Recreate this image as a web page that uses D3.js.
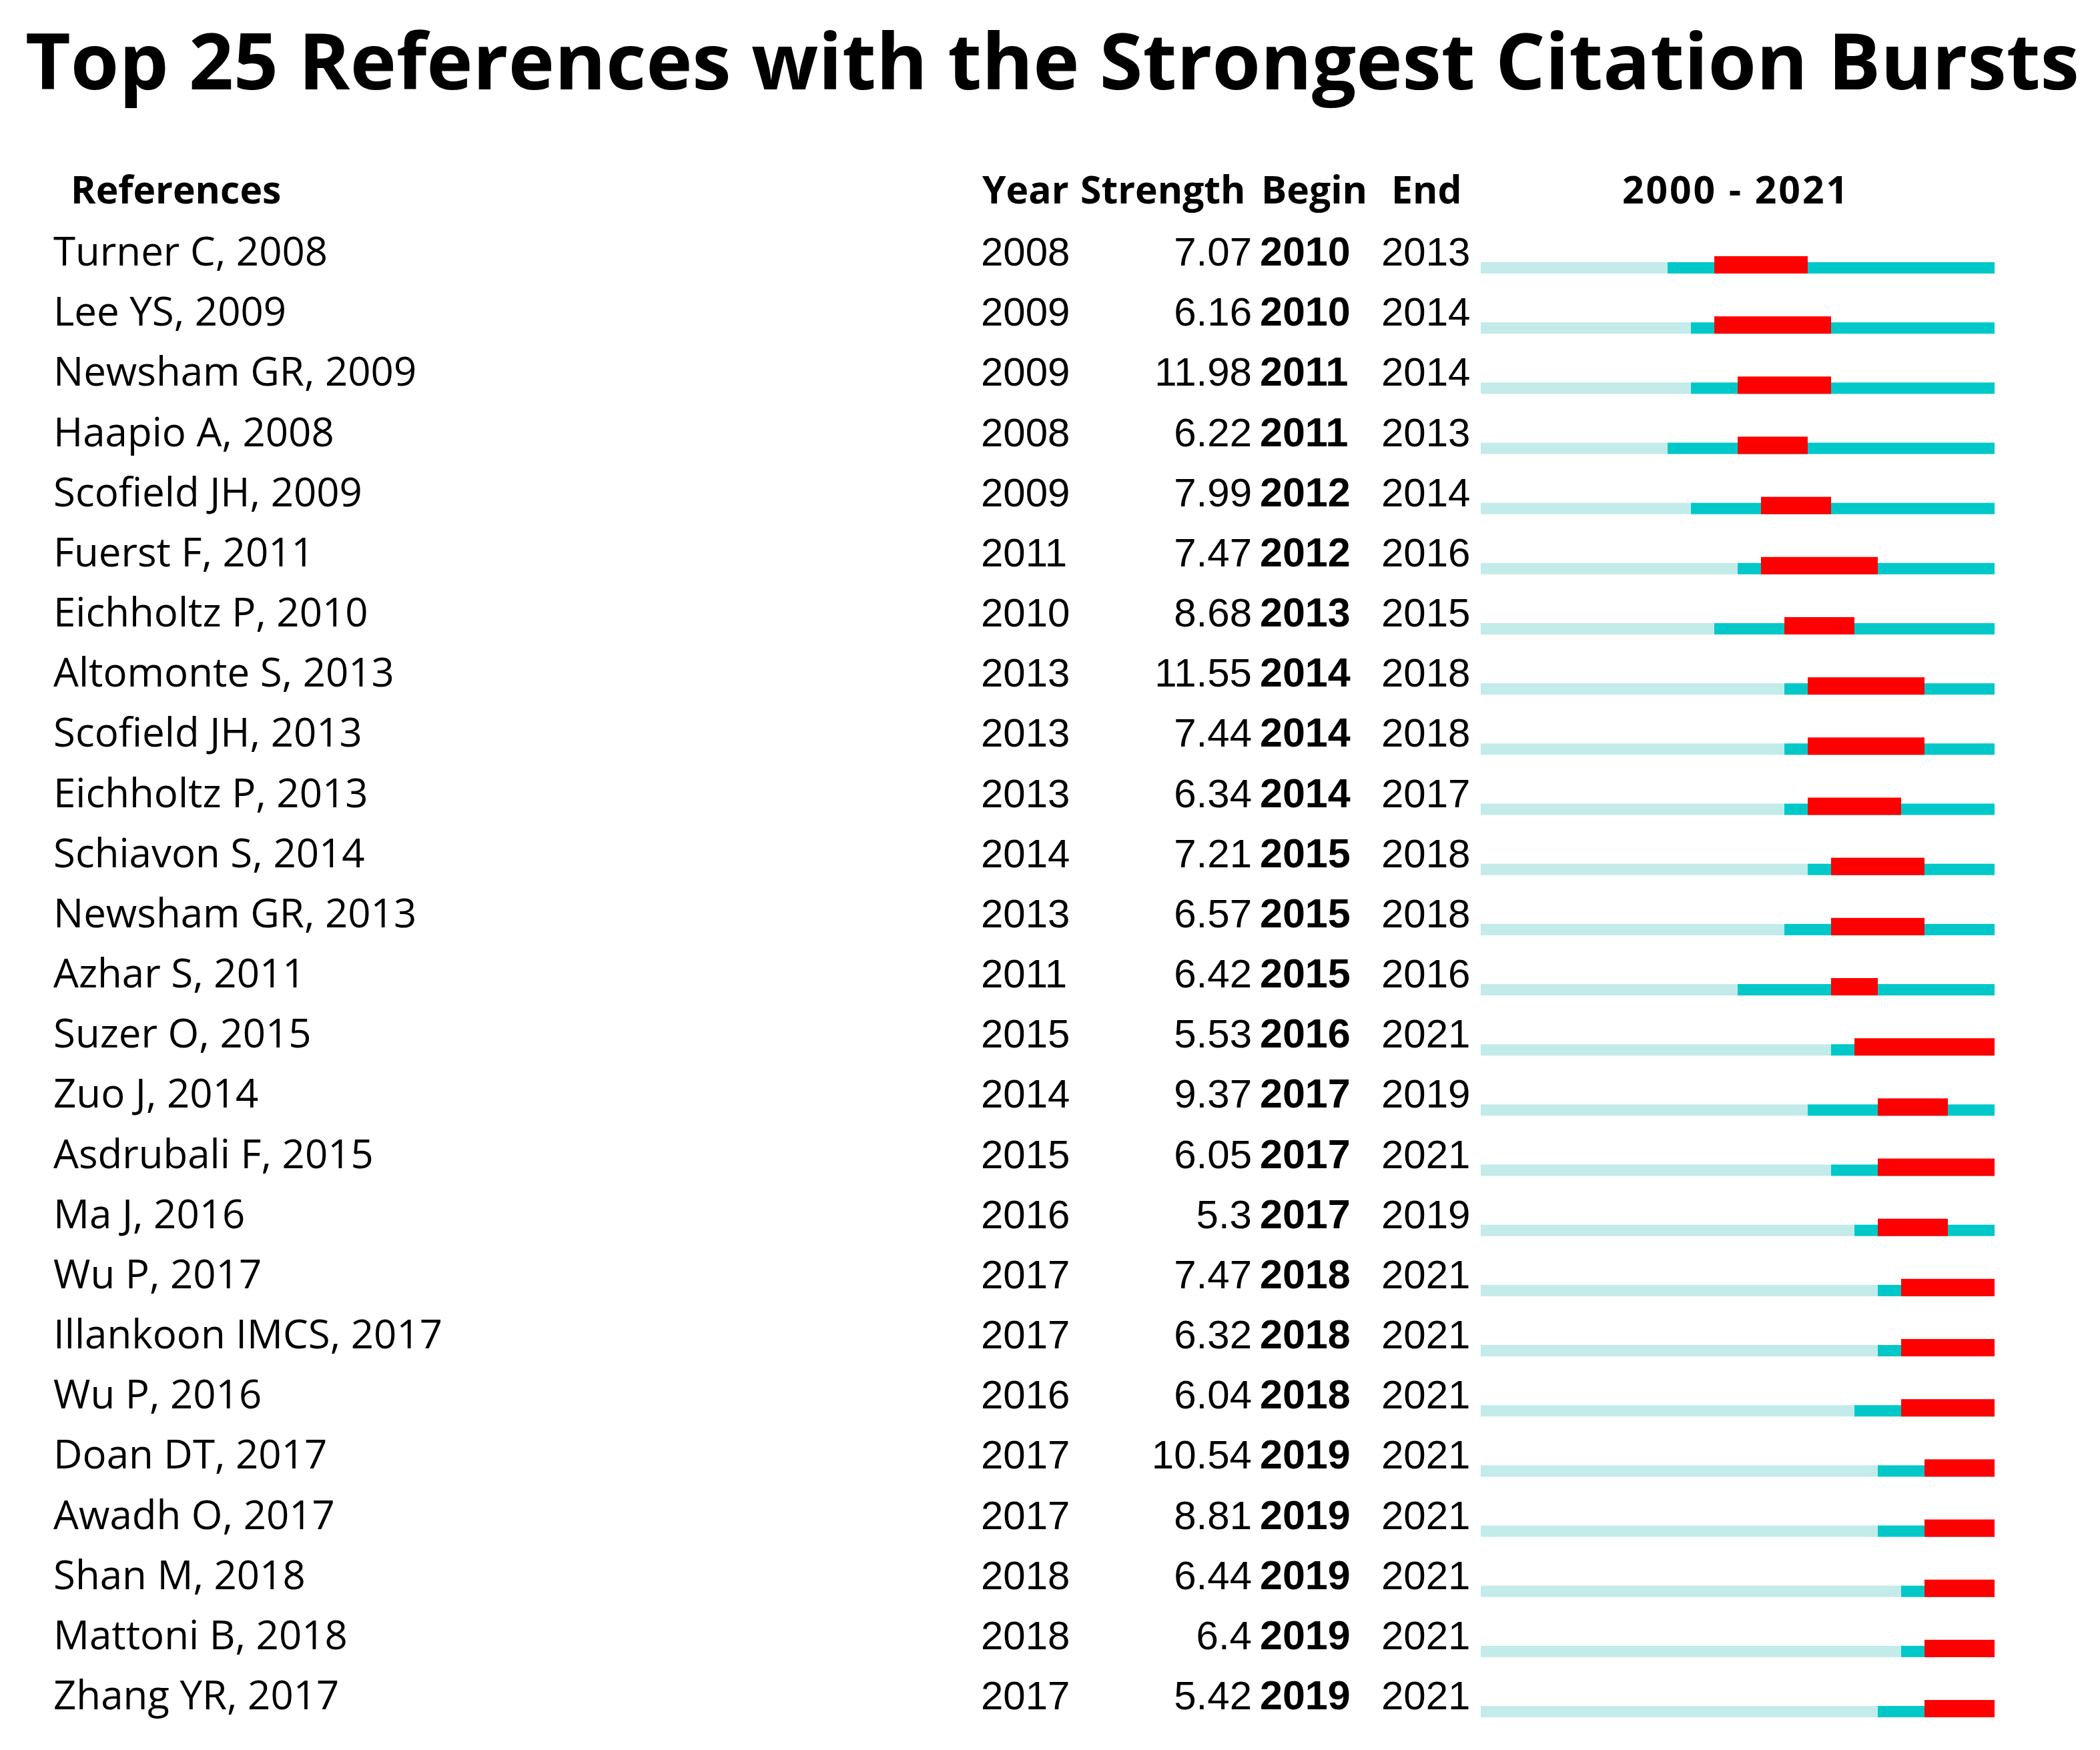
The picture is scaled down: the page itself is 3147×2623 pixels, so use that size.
<!DOCTYPE html>
<html>
<head>
<meta charset="utf-8">
<script src="https://cdn.jsdelivr.net/npm/d3@7"></script>
<style>
  body { margin: 0; background: #fff; }
</style>
</head>
<body>
<div id="chart"></div>
<script>
"use strict";

/*** Data */
const refs = ["Turner C, 2008", "Lee YS, 2009", "Newsham GR, 2009", "Haapio A, 2008", "Scofield JH, 2009",
              "Fuerst F, 2011", "Eichholtz P, 2010", "Altomonte S, 2013", "Scofield JH, 2013", "Eichholtz P, 2013",
              "Schiavon S, 2014", "Newsham GR, 2013", "Azhar S, 2011", "Suzer O, 2015", "Zuo J, 2014",
              "Asdrubali F, 2015", "Ma J, 2016", "Wu P, 2017", "Illankoon IMCS, 2017", "Wu P, 2016",
              "Doan DT, 2017", "Awadh O, 2017", "Shan M, 2018", "Mattoni B, 2018", "Zhang YR, 2017"];
const years = [2008, 2009, 2009, 2008, 2009, 2011, 2010, 2013, 2013, 2013, 2014, 2013, 2011, 2015, 2014,
               2015, 2016, 2017, 2017, 2016, 2017, 2017, 2018, 2018, 2017];
const strengths = ["7.07", "6.16", "11.98", "6.22", "7.99", "7.47", "8.68", "11.55", "7.44", "6.34", "7.21", "6.57", "6.42",
                   "5.53", "9.37", "6.05", "5.3", "7.47", "6.32", "6.04", "10.54", "8.81", "6.44", "6.4", "5.42"];
const begins = [2010, 2010, 2011, 2011, 2012, 2012, 2013, 2014, 2014, 2014, 2015, 2015, 2015, 2016, 2017,
                2017, 2017, 2018, 2018, 2018, 2019, 2019, 2019, 2019, 2019];
const ends = [2013, 2014, 2014, 2013, 2014, 2016, 2015, 2018, 2018, 2017, 2018, 2018, 2016, 2021, 2019,
              2021, 2019, 2021, 2021, 2021, 2021, 2021, 2021, 2021, 2021];
const firstYear = 2000;
const lastYear = 2021;

const rows = refs.map((r, i) => ({ref: r, year: years[i], strength: strengths[i], begin: begins[i], end: ends[i]}));

/*** Layout */
const w = 3147;
const h = 2623;
const labelFont = "'Open Sans', 'Noto Sans', sans-serif";
const numFont = "'Liberation Sans', Arial, sans-serif";

const svg = d3.select("#chart")
    .append("svg")
    .attr("width", w)
    .attr("height", h)
    .style("background", "#fff");

/* scales */
const x = d3.scaleLinear().domain([firstYear, lastYear + 1]).range([2219, 2989]);
const y = d3.scaleLinear().domain([0, rows.length - 1]).range([398, 2562]); // text baselines

/** Title: fit the font size to the wanted width instead of stretching it */
const titleWidth = 3078;
const title = svg.append("text")
    .attr("x", 38)
    .attr("y", 134)
    .style("font-family", labelFont)
    .style("font-weight", 700)
    .style("font-size", "125px")
    .text("Top 25 References with the Strongest Citation Bursts");
const natural = title.node().getComputedTextLength();
title.style("font-size", (125 * titleWidth / natural) + "px");
const tb = title.node().getBBox();
if (tb.y < 2) title.attr("y", 134 + (2 - tb.y)); // keep the box inside the picture

/** Column headers */
const headers = [
    {t: "References", x: 106, anchor: "start", len: null},
    {t: "Year", x: 1472, anchor: "start", len: null},
    {t: "Strength", x: 1619, anchor: "start", len: null},
    {t: "Begin", x: 1890, anchor: "start", len: null},
    {t: "End", x: 2085, anchor: "start", len: null},
    {t: firstYear + " - " + lastYear, x: 2431, anchor: "start", len: 338}
];
const headerText = svg.append("g")
    .selectAll("text")
    .data(headers)
    .enter()
    .append("text")
    .attr("x", d => d.x)
    .attr("y", 305)
    .attr("text-anchor", d => d.anchor)
    .style("font-family", labelFont)
    .style("font-weight", 700)
    .style("font-size", "57px")
    .text(d => d.t);
headerText.filter(d => d.len)
    .attr("textLength", d => d.len)
    .attr("lengthAdjust", "spacing");

/** Rows */
const row = svg.append("g")
    .selectAll("g")
    .data(rows)
    .enter()
    .append("g")
    .attr("transform", (d, i) => "translate(0," + y(i) + ")");

row.append("text")
    .attr("x", 80)
    .style("font-family", labelFont)
    .style("font-size", "60px")
    .text(d => d.ref);

row.append("text")
    .attr("x", 1470)
    .style("font-family", numFont)
    .style("font-size", "60px")
    .text(d => d.year);

row.append("text")
    .attr("x", 1876)
    .attr("text-anchor", "end")
    .style("font-family", numFont)
    .style("font-size", "60px")
    .text(d => d.strength);

row.append("text")
    .attr("x", 1888)
    .style("font-family", numFont)
    .style("font-weight", 700)
    .style("font-size", "61px")
    .text(d => d.begin);

row.append("text")
    .attr("x", 2070)
    .style("font-family", numFont)
    .style("font-size", "60px")
    .text(d => d.end);

/* timeline: before publication, after publication, burst */
row.append("rect")
    .attr("x", x(firstYear))
    .attr("y", -5)
    .attr("width", d => x(d.year) - x(firstYear))
    .attr("height", 17)
    .style("fill", "#c2ebea");

row.append("rect")
    .attr("x", d => x(d.year))
    .attr("y", -5)
    .attr("width", d => x(lastYear + 1) - x(d.year))
    .attr("height", 17)
    .style("fill", "#00c8c8");

row.append("rect")
    .attr("x", d => x(d.begin))
    .attr("y", -14)
    .attr("width", d => x(d.end + 1) - x(d.begin))
    .attr("height", 26)
    .style("fill", "#ff0000");
</script>
</body>
</html>
